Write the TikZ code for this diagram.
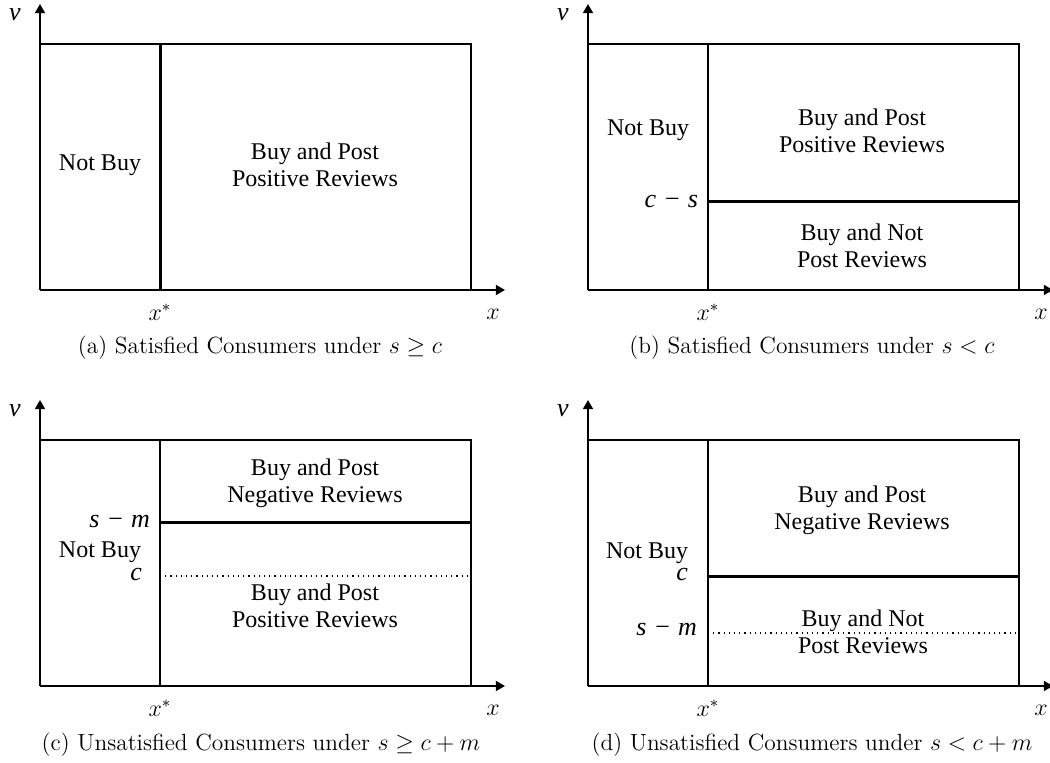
\documentclass[tikz,border=0pt]{standalone}
\usepackage{amsmath,amssymb}
\usepackage{fontspec}
\newfontfamily\timesfont{Liberation Serif}
\usetikzlibrary{arrows.meta}
\newcommand{\gap}{\hspace{0.27em}}

\begin{document}
\begin{tikzpicture}[x=0.5pt,y=-0.5pt,
    axis/.style={line width=1pt,-{Triangle[length=4.6pt,width=5pt]}},
    border/.style={line width=1pt},
    split/.style={line width=1.5pt},
    cut/.style={dotted,line width=0.6pt},
    region/.style={font=\timesfont\fontsize{12}{13.5}\selectfont,align=center},
    var/.style={font=\timesfont\itshape\fontsize{13}{13}\selectfont},
    xlab/.style={font=\fontsize{12}{12}\selectfont},
    caption/.style={font=\fontsize{11.7}{13}\selectfont}]
  \useasboundingbox (0,0) rectangle (1050,763);

  % axes and outer box, same for all four panels
  \foreach \dx/\dy in {0/0,548/0,0/396,548/396}{
    \begin{scope}[shift={(\dx,\dy)}]
      \draw[axis] (40,290) -- (40,4);
      \draw[axis] (40,290) -- (505,290);
      \draw[border] (40,44) -- (471,44) -- (471,290);
      \node[var] at (15,15) {v};
      \node[xlab] at (160,312) {$x^{*}$};
      \node[xlab] at (493,314) {$x$};
    \end{scope}
  }

  % (a)
  \draw[split] (160,44) -- (160,290);
  \node[region] (a nobuy) at (100,165) {Not Buy};
  \node[region] (a pos) at (315,165) {Buy and Post\\Positive Reviews};
  \node[caption] (a cap) at (260,348) {(a) Satisfied Consumers under $s\geq c$};

  % (b)
  \draw[border] (708,44) -- (708,290);
  \draw[split] (708,202) -- (1019,202);
  \node[var,anchor=east] (b cs) at (705,202) {c\gap−\gap s};
  \node[region] (b nobuy) at (648,130) {Not Buy};
  \node[region] (b pos) at (862,131) {Buy and Post\\Positive Reviews};
  \node[region] (b none) at (862,246) {Buy and Not\\Post Reviews};
  \node[caption] (b cap) at (812,348) {(b) Satisfied Consumers under $s<c$};

  % (c)
  \draw[border] (160,440) -- (160,686);
  \draw[split] (160,523) -- (471,523);
  \draw[cut] (160,576) -- (471,576);
  \node[var,anchor=east] (c sm) at (157,522) {s\gap−\gap m};
  \node[var,anchor=east] (c c) at (149,575) {c};
  \node[region] (c nobuy) at (100,552) {Not Buy};
  \node[region] (c neg) at (315,483) {Buy and Post\\Negative Reviews};
  \node[region] (c pos) at (315,606) {Buy and Post\\Positive Reviews};
  \node[caption] (c cap) at (261,745) {(c) Unsatisfied Consumers under $s\geq c+m$};

  % (d)
  \draw[border] (708,440) -- (708,686);
  \draw[split] (708,577) -- (1019,577);
  \draw[cut] (708,633) -- (1019,633);
  \node[var,anchor=east] (d c) at (695,575) {c};
  \node[var,anchor=east] (d sm) at (704,630) {s\gap−\gap m};
  \node[region] (d nobuy) at (647,553) {Not Buy};
  \node[region] (d neg) at (862,510) {Buy and Post\\Negative Reviews};
  \node[region] (d none) at (863,632) {Buy and Not\\Post Reviews};
  \node[caption] (d cap) at (812,745) {(d) Unsatisfied Consumers under $s<c+m$};
\end{tikzpicture}
\end{document}
